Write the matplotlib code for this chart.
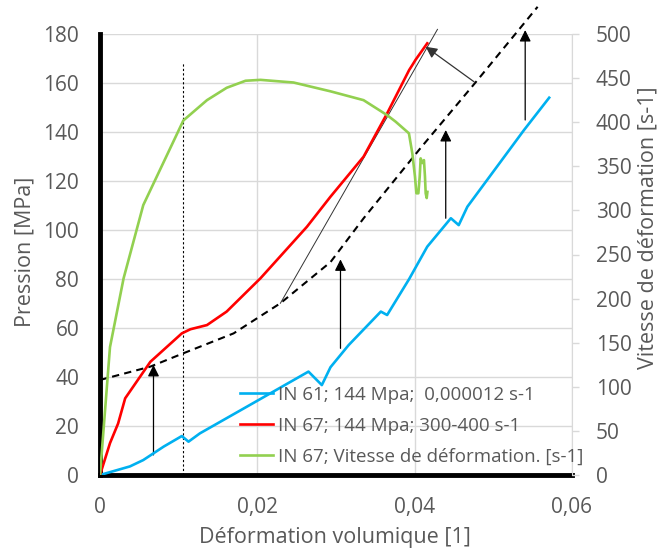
import matplotlib
matplotlib.use('Agg')
import matplotlib.pyplot as plt

plt.rcParams['font.family'] = ['Open Sans', 'DejaVu Sans']

# ---- data ----
x_in61 = [0, 0.0038, 0.0055, 0.0081, 0.0104, 0.01125, 0.0127, 0.0195, 0.0265, 0.0282,
          0.0293, 0.0316, 0.0357, 0.0365, 0.0393, 0.0416, 0.0446, 0.0456, 0.0467, 0.0539, 0.0571]
y_in61 = [0, 3.5, 6.1, 11.6, 15.9, 13.6, 17, 29.4, 42.2, 36.7,
          44, 53, 66.7, 65.3, 80, 93.2, 104.8, 102, 109.5, 140.8, 154]

x_in67 = [0, 0.00127, 0.0023, 0.0032, 0.0064, 0.0104, 0.0115, 0.0136, 0.0161, 0.0204,
          0.0263, 0.0293, 0.0335, 0.0365, 0.0393, 0.0397, 0.0401, 0.0416]
y_in67 = [0, 13, 21, 31.3, 46.2, 57.8, 59.5, 61.2, 66.7, 80.3,
          101.3, 113.6, 129.9, 147.6, 165.3, 167.3, 169.4, 176.2]

x_vit = [0, 0.00127, 0.003, 0.0055, 0.0072, 0.0106, 0.0136, 0.0161, 0.0185, 0.0204,
         0.0246, 0.0293, 0.0335, 0.0365, 0.03758, 0.03927, 0.0397, 0.04004, 0.04022,
         0.04047, 0.04064, 0.04076, 0.04098, 0.04118, 0.04131, 0.0414, 0.04153, 0.04162]
y_vit = [0, 145, 223, 306, 338, 402, 425, 439, 447, 448,
         445, 435, 425, 408, 400.6, 387.4, 364.7, 338.2, 319.4,
         319.4, 338.2, 359, 353.7, 357, 338.2, 319.4, 314, 321]

x_trend = [0, 0.00637, 0.01061, 0.01698, 0.02293, 0.0293, 0.03354, 0.04076, 0.04799, 0.05563]
y_trend = [38.8, 44.2, 49.7, 57.8, 70.1, 86.9, 104.9, 133.5, 161.2, 191.1]

x_tangent = [0.02293, 0.0429]
y_tangent = [70.1, 181.9]

x_dotted = 0.0106
y_dotted_top = 168.6

# vertical arrows: (x, y_start, y_end)
arrows_v = [(0.0068, 8.2, 44.9), (0.03057, 51.7, 88.0), (0.04395, 104.8, 140.8), (0.05405, 144.9, 181.6)]
# oblique arrow: tail -> tip
arrow_tail = (0.04755, 160.5)
arrow_tip = (0.0414, 174.8)

labels = ['IN 61; 144 Mpa;  0,000012 s-1', 'IN 67; 144 Mpa; 300-400 s-1',
          'IN 67; Vitesse de déformation. [s-1]']
x_ticks = [0, 0.02, 0.04, 0.06]
x_ticklabels = ['0', '0,02', '0,04', '0,06']
y_ticks = list(range(0, 181, 20))
y2_ticks = list(range(0, 501, 50))

# ---- figure ----
W, H = 660, 552
fig = plt.figure(figsize=(6.6, 5.52), dpi=100)
ax = fig.add_axes([100/W, 1-475/H, 472/W, 441/H])
ax2 = ax.twinx()

grey_txt = '#595959'
grid_c = '#d9d9d9'

ax.set_xlim(0, 0.06)
ax.set_ylim(0, 180)
ax2.set_ylim(0, 500)
ax.set_xticks(x_ticks)
ax.set_xticklabels(x_ticklabels)
ax.set_yticks(y_ticks)
ax2.set_yticks(y2_ticks)

ax.grid(True, color=grid_c, lw=1)
ax.set_axisbelow(True)

ax.tick_params(axis='both', length=0, labelsize=15, colors=grey_txt)
ax.tick_params(axis='y', pad=15)
ax.tick_params(axis='x', pad=16)
ax2.tick_params(axis='y', length=5, width=1, color=grid_c, labelsize=15, labelcolor=grey_txt, pad=12)

for s in ['top', 'right']:
    ax.spines[s].set_visible(False)
for s in ['top', 'left', 'bottom']:
    ax2.spines[s].set_visible(False)
ax2.spines['right'].set_color(grid_c)
ax.spines['left'].set_linewidth(3.5)
ax.spines['bottom'].set_linewidth(3.5)
ax.spines['left'].set_color('black')
ax.spines['bottom'].set_color('black')

# annotations on left axis
ax.plot([x_dotted, x_dotted], [0, y_dotted_top], color='black', lw=0.8, ls=(0, (2, 2)))
ax.plot(x_trend, y_trend, color='black', lw=1.5, ls=(0, (3.5, 2.5)), clip_on=False, zorder=3)
ax.plot(x_tangent, y_tangent, color='#333333', lw=0.7, clip_on=False, zorder=3)
for xa, y0, y1 in arrows_v:
    ax.annotate('', xy=(xa, y1), xytext=(xa, y0),
                arrowprops=dict(arrowstyle='-|>', color='black', lw=0.9, mutation_scale=17,
                                shrinkA=0, shrinkB=0), annotation_clip=False)
ax.annotate('', xy=arrow_tip, xytext=arrow_tail,
            arrowprops=dict(arrowstyle='-|>', color='#333333', lw=0.9, mutation_scale=17,
                            shrinkA=0, shrinkB=0), annotation_clip=False)

l1, = ax.plot(x_in61, y_in61, color='#00b0f0', lw=1.9, zorder=4)
l2, = ax.plot(x_in67, y_in67, color='#ff0000', lw=1.9, zorder=4)
l3, = ax2.plot(x_vit, y_vit, color='#92d050', lw=1.9)

fig.text(335/W, 1-543/H, 'Déformation volumique [1]', fontsize=15.5, color=grey_txt,
         ha='center', va='baseline')
fig.text(25/W, 1-252/H, 'Pression [MPa]', fontsize=15.5, color=grey_txt,
         ha='center', va='center', rotation=90)
fig.text(648/W, 1-228/H, 'Vitesse de déformation [s-1]', fontsize=15.5, color=grey_txt,
         ha='center', va='center', rotation=90)

leg = ax2.legend([l1, l2, l3], labels, loc='upper left',
                 bbox_to_anchor=(240/W, 1-386/H), bbox_transform=fig.transFigure,
                 frameon=False, fontsize=13.5, handlelength=1.75, handletextpad=0.25,
                 labelspacing=0.68, borderpad=0, borderaxespad=0)
for t in leg.get_texts():
    t.set_color(grey_txt)

fig.savefig('out.png', dpi=100)
